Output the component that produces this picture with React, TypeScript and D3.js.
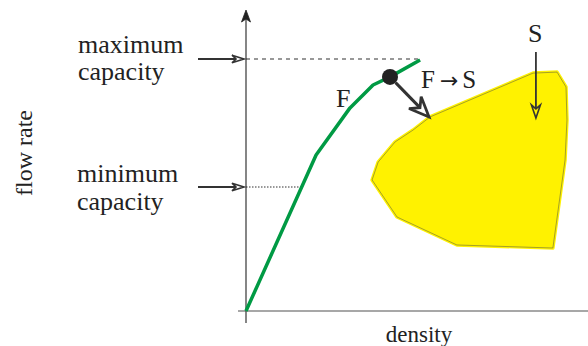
import React from "react";
import * as d3 from "d3";

// Fundamental diagram: F = free-flow branch, S = synchronized flow region
const flowDensity = [0, 21.9, 32.5, 39.7, 45, 54.4];
const flowRate = [0, 61.9, 80.6, 89.7, 92.9, 99.6];
const regionDensity = [39.4, 41.3, 46.6, 52.2, 57.5, 89.7, 97.2, 100, 100.3, 99.7, 95.9, 65.9, 47.2];
const regionFlow = [52.0, 59.1, 67.1, 71.8, 77.0, 94.4, 94.8, 88.9, 75.8, 59.9, 25.0, 26.2, 37.3];
const maxCapacity = 100;
const minCapacity = 49.2;
const breakdownPoint = { density: 45, flow: 92.9 };
const transitionEnd = { density: 57.2, flow: 77.0 };
const sArrow = { density: 90.6, from: 102.8, to: 76.6 };
const labels = {
  yAxis: "flow rate",
  xAxis: "density",
  max: ["maximum", "capacity"],
  min: ["minimum", "capacity"],
  F: "F",
  FS: ["F", "\u2192", "S"],
  S: "S",
};

const W = 588;
const H = 346;
const FONT = "'Liberation Serif', 'Times New Roman', serif";
const INK = "#222";

export default function App() {
  const x = d3.scaleLinear().domain([0, 100]).range([246, 566]);
  const y = d3.scaleLinear().domain([0, 100]).range([311, 59]);

  const curvePts: [number, number][] = flowDensity.map((d, i) => [x(d), y(flowRate[i])]);
  const regionPts: [number, number][] = regionDensity.map((d, i) => [x(d), y(regionFlow[i])]);
  const regionPath = d3.line<[number, number]>().curve(d3.curveLinearClosed)(regionPts) as string;
  const curvePath = d3.line<[number, number]>()(curvePts) as string;

  // intersection of min capacity with first segment of F
  const minX = flowDensity[1] * (minCapacity / flowRate[1]);

  const x0 = x(0);
  const yTop = 10;
  const yBase = y(0);

  // arrowhead helper (notched)
  const head = (tx: number, ty: number, angle: number, len: number, hw: number, notch: number) => {
    const c = Math.cos(angle), s = Math.sin(angle);
    const p = (a: number, b: number) => [tx + a * c - b * s, ty + a * s + b * c];
    const pts = [p(0, 0), p(-len, -hw), p(-len + notch, 0), p(-len, hw)];
    return "M" + pts.map((q) => q.map((v) => v.toFixed(2)).join(",")).join("L") + "Z";
  };

  const dotX = x(breakdownPoint.density), dotY = y(breakdownPoint.flow);
  const endX = x(transitionEnd.density), endY = y(transitionEnd.flow);
  const ang = Math.atan2(endY - dotY, endX - dotX);

  return (
    <svg width={W} height={H} style={{ position: "absolute", left: 0, top: 0, background: "#fff" }}>
      {/* axes */}
      <line x1={238} x2={W} y1={yBase} y2={yBase} stroke="#8a8a8a" strokeWidth={1.6} />
      <line x1={x0} x2={x0} y1={yTop + 6} y2={323} stroke="#444" strokeWidth={1.3} />
      <path d={head(x0, yTop, -Math.PI / 2, 12, 4.5, 3)} fill="#222" stroke="#222" strokeWidth={0.8} />

      {/* capacity guides */}
      <line x1={x0} x2={x(flowDensity[flowDensity.length - 1])} y1={y(maxCapacity)} y2={y(maxCapacity)}
        stroke="#333" strokeWidth={1.2} strokeDasharray="4,4" />
      <line x1={x0} x2={x(minX)} y1={y(minCapacity)} y2={y(minCapacity)}
        stroke="#333" strokeWidth={1.2} strokeDasharray="1.5,1.5" />

      {/* S region */}
      <path d={regionPath} fill="#fff200" stroke="#fff200" strokeWidth={3.5} strokeLinejoin="round" />
      <path d={regionPath} fill="none" stroke="#6b6b3a" strokeWidth={0.6} />

      {/* F branch */}
      <path d={curvePath} fill="none" stroke="#009a44" strokeWidth={3.5} strokeLinejoin="round" />
      <circle cx={dotX} cy={dotY} r={8} fill="#222" />

      {/* F -> S arrow */}
      <line x1={dotX + 8 * Math.cos(ang)} y1={dotY + 8 * Math.sin(ang)}
        x2={endX - 12 * Math.cos(ang)} y2={endY - 12 * Math.sin(ang)} stroke="#333" strokeWidth={3} />
      <path d={head(endX, endY, ang, 20, 8.5, 7)} fill="#fff" stroke="#333" strokeWidth={2.8} strokeLinejoin="miter" />

      {/* S arrow */}
      <line x1={x(sArrow.density)} x2={x(sArrow.density)} y1={y(sArrow.from)} y2={y(sArrow.to) - 6}
        stroke="#333" strokeWidth={1.8} />
      <path d={head(x(sArrow.density), y(sArrow.to), Math.PI / 2, 13, 4.5, 4)} fill="#fff200" stroke="#333" strokeWidth={1.6} />

      {/* capacity arrows */}
      <line x1={198} x2={238} y1={y(maxCapacity)} y2={y(maxCapacity)} stroke="#333" strokeWidth={1.8} />
      <path d={head(244, y(maxCapacity), 0, 12, 3.8, 4)} fill="#fff" stroke="#333" strokeWidth={1.6} />
      <line x1={198} x2={238} y1={y(minCapacity)} y2={y(minCapacity)} stroke="#333" strokeWidth={1.8} />
      <path d={head(244, y(minCapacity), 0, 12, 3.8, 4)} fill="#fff" stroke="#333" strokeWidth={1.6} />

      {/* texts */}
      <g fontFamily={FONT} fill={INK} fontSize={26}>
        <text x={78} y={53}>{labels.max[0]}</text>
        <text x={78} y={80}>{labels.max[1]}</text>
        <text x={77} y={182}>{labels.min[0]}</text>
        <text x={77} y={210}>{labels.min[1]}</text>
        <text x={336} y={107}>{labels.F}</text>
        <text x={421} y={88} fontSize={25}>
          <tspan>{labels.FS[0]}</tspan>
          <tspan dx={5} fontFamily="'DejaVu Sans', sans-serif" fontSize={22}>{labels.FS[1]}</tspan>
          <tspan dx={4}>{labels.FS[2]}</tspan>
        </text>
        <text x={528} y={42}>{labels.S}</text>
        <text x={419} y={342} textAnchor="middle" fontSize={23}>{labels.xAxis}</text>
        <text transform="translate(32,153) rotate(-90)" textAnchor="middle" fontSize={24}>{labels.yAxis}</text>
      </g>
    </svg>
  );
}
